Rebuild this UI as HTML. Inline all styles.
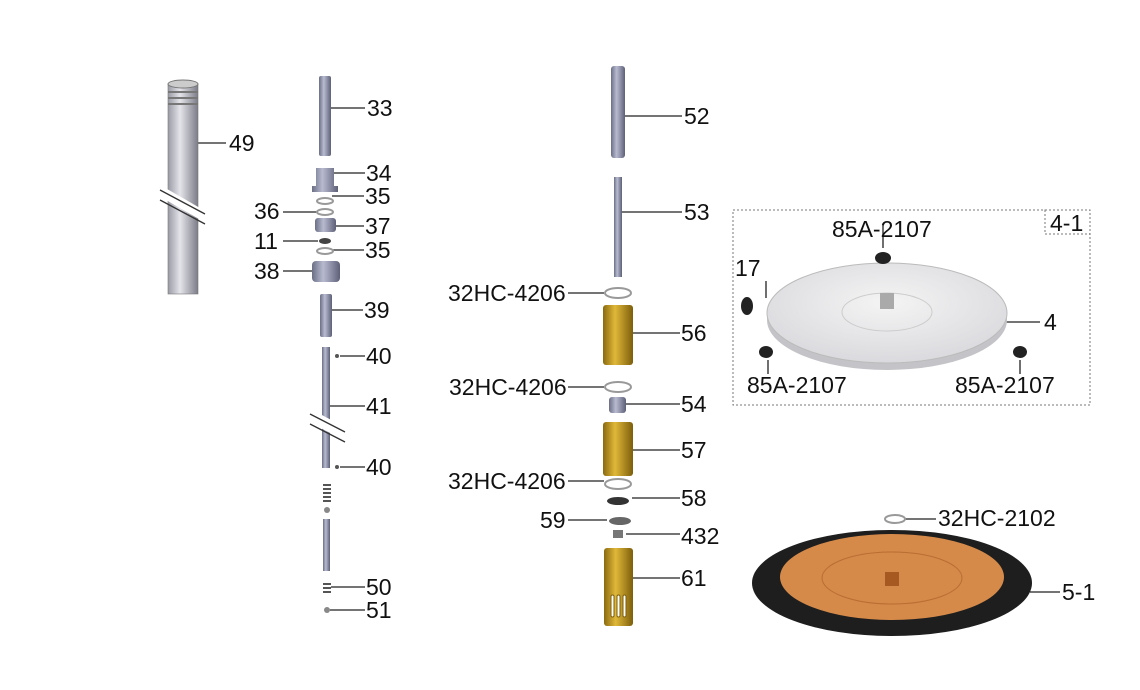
<!DOCTYPE html>
<html><head><meta charset="utf-8"><style>
html,body{margin:0;padding:0;background:#fff;width:1140px;height:690px;overflow:hidden}
svg text{font-family:"Liberation Sans","DejaVu Sans",sans-serif;font-size:23px;fill:#111}
</style></head><body>
<svg width="1140" height="690" viewBox="0 0 1140 690" xmlns="http://www.w3.org/2000/svg">
<defs>
<linearGradient id="g" x1="0" x2="1"><stop offset="0" stop-color="#9a9aa6"/><stop offset=".4" stop-color="#e4e4ea"/><stop offset="1" stop-color="#7c7c88"/></linearGradient>
<linearGradient id="gb" x1="0" x2="1"><stop offset="0" stop-color="#6b6f86"/><stop offset=".4" stop-color="#b8bbd0"/><stop offset="1" stop-color="#5d6078"/></linearGradient>
<linearGradient id="au" x1="0" x2="1"><stop offset="0" stop-color="#8a6a10"/><stop offset=".4" stop-color="#e0b838"/><stop offset="1" stop-color="#7d5e0c"/></linearGradient>
<radialGradient id="pl" cx=".5" cy=".4" r=".6"><stop offset="0" stop-color="#f4f4f4"/><stop offset="1" stop-color="#dadade"/></radialGradient>
</defs>
<g stroke="#222" stroke-width="1.3" fill="none">
<path d="M190 143H226M331 108H365M334 173H365M332 196H364M283 212H318M336 226H364M283 241H318M332 250H364M283 271H312M332 310H363M340 356H365M330 406H365M340 467H365M331 587H365M330 610H365M625 116H682M622 212H682M568 293H604M633 333H680M568 387H604M626 404H680M633 450H680M568 481H604M632 498H680M568 520H607M626 534H680M633 578H680M905 519H936M1004 322H1040M1030 592H1060M883 225V248M766 281V298M768 360V374M1020 360V374"/>
</g>
<rect x="168" y="84" width="30" height="210" fill="url(#g)" stroke="#777" stroke-width=".6"/>
<ellipse cx="183" cy="84" rx="15" ry="4" fill="#ccc" stroke="#777"/>
<g stroke="#777" stroke-width="2"><path d="M168 92H198M168 98H198M168 104H198"/></g>
<rect x="160" y="199" width="46" height="10" fill="#fff" transform="rotate(30 183 204)"/>
<path d="M160 190L205 214M160 200L205 224" stroke="#333" stroke-width="1.3"/>
<rect x="319" y="76" width="12" height="80" rx="2" fill="url(#gb)"/>
<path d="M316 168h18v18h4v6h-26v-6h4z" fill="url(#gb)"/>
<ellipse cx="325" cy="201" rx="8" ry="3" fill="none" stroke="#999" stroke-width="2"/>
<ellipse cx="325" cy="212" rx="8" ry="3" fill="none" stroke="#999" stroke-width="2"/>
<rect x="315" y="218" width="21" height="14" rx="3" fill="url(#gb)"/>
<ellipse cx="325" cy="241" rx="6" ry="3" fill="#444"/>
<ellipse cx="325" cy="251" rx="8" ry="3" fill="none" stroke="#999" stroke-width="2"/>
<rect x="312" y="261" width="28" height="21" rx="4" fill="url(#gb)"/>
<rect x="320" y="294" width="12" height="43" rx="2" fill="url(#gb)"/>
<rect x="322" y="347" width="8" height="121" fill="url(#gb)"/>
<rect x="312" y="418" width="40" height="12" fill="#fff" transform="rotate(28 326 424)"/>
<path d="M310 414L345 432M310 424L345 442" stroke="#333" stroke-width="1.3"/>
<circle cx="337" cy="356" r="2" fill="#555"/><circle cx="337" cy="467" r="2" fill="#555"/>
<path d="M323 485h8M323 489h8M323 493h8M323 497h8M323 501h8" stroke="#555" stroke-width="2"/>
<circle cx="327" cy="510" r="3" fill="#888"/>
<rect x="323" y="519" width="7" height="52" fill="url(#gb)"/>
<path d="M323 584h8M323 588h8M323 592h8" stroke="#555" stroke-width="2"/>
<circle cx="327" cy="610" r="3" fill="#888"/>
<rect x="611" y="66" width="14" height="92" rx="3" fill="url(#gb)"/>
<rect x="614" y="177" width="8" height="100" fill="url(#gb)"/>
<ellipse cx="618" cy="293" rx="13" ry="5" fill="none" stroke="#999" stroke-width="2"/>
<rect x="603" y="305" width="30" height="60" rx="3" fill="url(#au)"/>
<ellipse cx="618" cy="387" rx="13" ry="5" fill="none" stroke="#999" stroke-width="2"/>
<rect x="609" y="397" width="17" height="16" rx="3" fill="url(#gb)"/>
<rect x="603" y="422" width="30" height="54" rx="3" fill="url(#au)"/>
<ellipse cx="618" cy="484" rx="13" ry="5" fill="none" stroke="#999" stroke-width="2"/>
<ellipse cx="618" cy="501" rx="11" ry="4" fill="#333"/>
<ellipse cx="620" cy="521" rx="11" ry="4" fill="#666"/>
<rect x="613" y="530" width="10" height="8" fill="#777"/>
<rect x="604" y="548" width="29" height="78" rx="3" fill="url(#au)"/>
<g fill="#fff" stroke="#7d5e0c"><rect x="611" y="595" width="3" height="22" rx="1.5"/><rect x="617" y="595" width="3" height="22" rx="1.5"/><rect x="623" y="595" width="3" height="22" rx="1.5"/></g>
<rect x="733" y="210" width="357" height="195" fill="none" stroke="#777" stroke-dasharray="2 2"/>
<rect x="1045" y="210" width="45" height="24" fill="none" stroke="#777" stroke-dasharray="2 2"/>
<ellipse cx="887" cy="320" rx="120" ry="50" fill="#c4c4c8"/>
<ellipse cx="887" cy="313" rx="120" ry="50" fill="url(#pl)" stroke="#bbb"/>
<ellipse cx="887" cy="312" rx="45" ry="19" fill="none" stroke="#ccc"/>
<rect x="880" y="293" width="14" height="16" fill="#aaa"/>
<g fill="#222"><ellipse cx="747" cy="306" rx="6" ry="9"/><ellipse cx="883" cy="258" rx="8" ry="6"/><ellipse cx="766" cy="352" rx="7" ry="6"/><ellipse cx="1020" cy="352" rx="7" ry="6"/></g>
<ellipse cx="892" cy="583" rx="140" ry="53" fill="#1e1e1e"/>
<ellipse cx="892" cy="577" rx="112" ry="43" fill="#d58a4a"/>
<ellipse cx="892" cy="578" rx="70" ry="26" fill="none" stroke="#b96e32"/>
<rect x="885" y="572" width="14" height="14" fill="#a65a22"/>
<ellipse cx="895" cy="519" rx="10" ry="4" fill="none" stroke="#999" stroke-width="2"/>
<text x="229" y="151">49</text>
<text x="367" y="116">33</text><text x="366" y="181">34</text><text x="365" y="204">35</text>
<text x="254" y="219">36</text><text x="365" y="234">37</text><text x="254" y="249">11</text>
<text x="365" y="258">35</text><text x="254" y="279">38</text><text x="364" y="318">39</text>
<text x="366" y="364">40</text><text x="366" y="414">41</text><text x="366" y="475">40</text>
<text x="366" y="595">50</text><text x="366" y="618">51</text>
<text x="684" y="124">52</text><text x="684" y="220">53</text>
<text x="448" y="301">32HC-4206</text><text x="681" y="341">56</text>
<text x="449" y="395">32HC-4206</text><text x="681" y="412">54</text>
<text x="681" y="458">57</text><text x="448" y="489">32HC-4206</text>
<text x="681" y="506">58</text><text x="540" y="528">59</text><text x="681" y="544">432</text>
<text x="681" y="586">61</text>
<text x="832" y="237">85A-2107</text><text x="1050" y="231">4-1</text>
<text x="735" y="276">17</text><text x="1044" y="330">4</text>
<text x="747" y="393">85A-2107</text><text x="955" y="393">85A-2107</text>
<text x="938" y="526">32HC-2102</text><text x="1062" y="600">5-1</text>
</svg>
</body></html>
